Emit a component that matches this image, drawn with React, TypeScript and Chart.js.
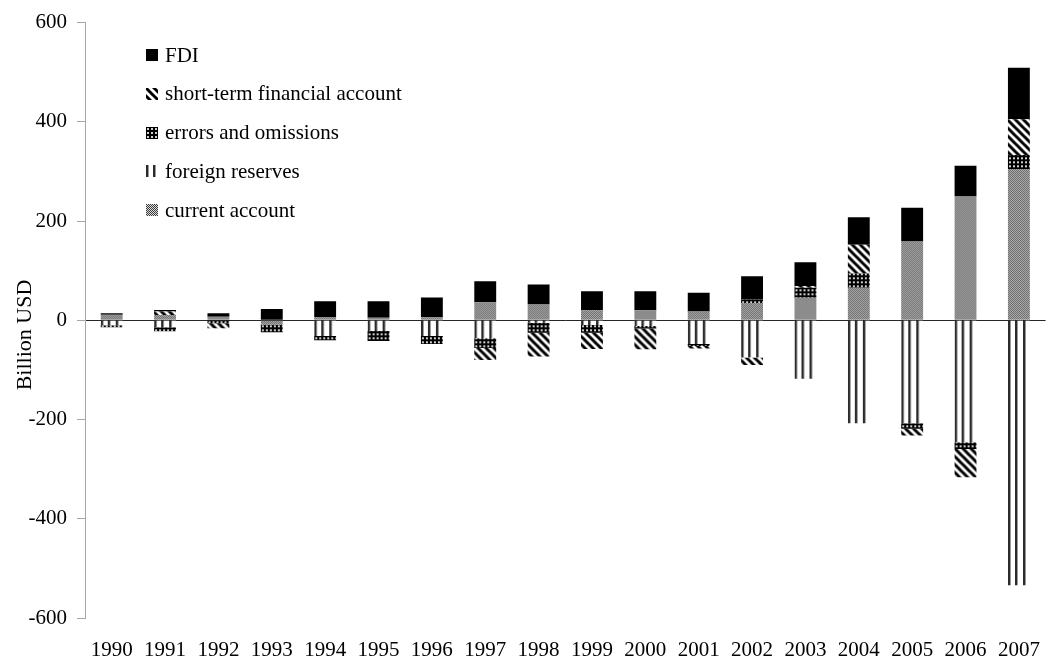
import React, { useEffect, useRef } from "react";
import { Chart, registerables } from "chart.js";

Chart.register(...registerables);

// ---------- data (billion USD) ----------
const years = [
  "1990", "1991", "1992", "1993", "1994", "1995", "1996", "1997", "1998",
  "1999", "2000", "2001", "2002", "2003", "2004", "2005", "2006", "2007",
];
const currentAccount = [11, 10.5, 7, -9, 6.5, 5, 6, 36.5, 32, 20.5, 20.5, 17.5, 35, 45.5, 65.5, 159, 249.5, 305];
const foreignReserves = [-10, -14, 0, 0, -31.5, -21.5, -31.5, -36, -5, -9.5, -11.5, -48, -75, -118, -207.5, -207.5, -246, -534];
const errorsOmissions = [-4, -8, -6, -15, -8.5, -20, -16.5, -20, -20, -15.5, -5, -4, 7, 20, 29, -11, -13.5, 28];
const shortTermFinancial = [0, 7, -10, 0, 0, 0, 0, -24, -48, -33, -42, -5, -15, 3.5, 58, -13.5, -57, 72];
const fdi = [3, 3.5, 7, 23, 32, 33.5, 40, 42, 40, 38, 38, 38, 47, 48, 55, 68, 62, 104];

const seriesLabels = [
  "current account",
  "foreign reserves",
  "errors and omissions",
  "short-term financial account",
  "FDI",
];
const yMin = -600;
const yMax = 600;
const yStep = 200;
const yTitle = "Billion USD";

// ---------- styling ----------
const FONT_FAMILY = "'Liberation Serif', 'Times New Roman', Times, serif";
const FONT_SIZE = 21;
const BAR_PCT = 0.41;

type Kind = "checker" | "vlines" | "grid" | "diag" | "solid";
const seriesKinds: Kind[] = ["checker", "vlines", "grid", "diag", "solid"];

const tileCache: Record<string, HTMLCanvasElement> = {};
function getTile(kind: Kind): HTMLCanvasElement {
  if (tileCache[kind]) return tileCache[kind];
  const c = document.createElement("canvas");
  let g: CanvasRenderingContext2D;
  if (kind === "checker") {
    c.width = 2; c.height = 2;
    g = c.getContext("2d")!;
    g.fillStyle = "#dcdcdc"; g.fillRect(0, 0, 2, 2);
    g.fillStyle = "#3c3c3c"; g.fillRect(0, 0, 1, 1); g.fillRect(1, 1, 1, 1);
  } else if (kind === "vlines") {
    c.width = 24; c.height = 2;
    g = c.getContext("2d")!;
    g.fillStyle = "#ffffff"; g.fillRect(0, 0, 24, 2);
    for (const x of [0, 7, 15]) {
      g.fillStyle = "#2b2b2b"; g.fillRect(x, 0, 2, 2);
      g.fillStyle = "#9a9a9a"; g.fillRect(x + 2, 0, 1, 2);
    }
  } else if (kind === "grid") {
    c.width = 4; c.height = 4;
    g = c.getContext("2d")!;
    g.fillStyle = "#000"; g.fillRect(0, 0, 4, 4);
    g.fillStyle = "#d0d0d0"; g.fillRect(1, 1, 2, 2);
  } else if (kind === "diag") {
    c.width = 8; c.height = 8;
    g = c.getContext("2d")!;
    g.fillStyle = "#fff"; g.fillRect(0, 0, 8, 8);
    g.strokeStyle = "#000"; g.lineWidth = 3;
    for (const k of [-8, 0, 8]) {
      g.beginPath(); g.moveTo(k - 1, -1); g.lineTo(k + 9, 9); g.stroke();
    }
  } else {
    c.width = 1; c.height = 1;
    g = c.getContext("2d")!;
    g.fillStyle = "#000"; g.fillRect(0, 0, 1, 1);
  }
  tileCache[kind] = c;
  return c;
}

function makeFill(ctx: CanvasRenderingContext2D, kind: Kind, x: number, y: number): any {
  if (kind === "solid") return "#000000";
  const p = ctx.createPattern(getTile(kind), "repeat");
  if (!p) return "#888";
  p.setTransform(new DOMMatrix([1, 0, 0, 1, x, y]));
  return p;
}

function barFill(kind: Kind) {
  return (c: any) => {
    if (kind === "solid") return "#000000";
    const chart = c.chart;
    const xs = chart.scales && chart.scales.x;
    const ys = chart.scales && chart.scales.y;
    if (c.type !== "data" || !xs || !ys || !chart.chartArea) return "#888888";
    const n = chart.data.labels.length;
    const w = ((xs.right - xs.left) / n) * BAR_PCT;
    const left = xs.getPixelForValue(c.dataIndex) - w / 2;
    return makeFill(chart.ctx, kind, left, ys.getPixelForValue(0));
  };
}

// legend drawn inside the plot, top-left (order reversed, like the original)
const LEGEND_X = 146;
const LEGEND_TOP = 55;
const LEGEND_STEP = 38.8;
const LEGEND_BOX = 12;

// y-axis title placement (the original sits a little below the plot's middle)
const Y_TITLE_X = 25;
const Y_TITLE_Y = 335;
const Y_TITLE_SIZE = 22;

const insideLegend = {
  id: "insideLegend",
  afterDraw(chart: any) {
    const ctx: CanvasRenderingContext2D = chart.ctx;
    const order = [4, 3, 2, 1, 0];
    order.forEach((dsIdx, i) => {
      const ds = chart.data.datasets[dsIdx];
      const cy = LEGEND_TOP + i * LEGEND_STEP;
      const by = Math.round(cy - LEGEND_BOX / 2);
      ctx.save();
      ctx.fillStyle = makeFill(ctx, seriesKinds[dsIdx], LEGEND_X, by);
      ctx.fillRect(LEGEND_X, by, LEGEND_BOX, LEGEND_BOX);
      ctx.fillStyle = "#000";
      ctx.font = `${FONT_SIZE}px ${FONT_FAMILY}`;
      ctx.textAlign = "left";
      ctx.textBaseline = "middle";
      ctx.fillText(ds.label, LEGEND_X + 19, cy + 1);
      ctx.restore();
    });
  },
};

const yAxisTitle = {
  id: "yAxisTitle",
  afterDraw(chart: any) {
    const ctx: CanvasRenderingContext2D = chart.ctx;
    ctx.save();
    ctx.translate(Y_TITLE_X, Y_TITLE_Y);
    ctx.rotate(-Math.PI / 2);
    ctx.fillStyle = "#000";
    ctx.font = `${Y_TITLE_SIZE}px ${FONT_FAMILY}`;
    ctx.textAlign = "center";
    ctx.textBaseline = "middle";
    ctx.fillText(yTitle, 0, 0);
    ctx.restore();
  },
};

export default function App() {
  const ref = useRef<HTMLCanvasElement>(null);

  useEffect(() => {
    const canvas = ref.current;
    if (!canvas) return;
    const font = { family: FONT_FAMILY, size: FONT_SIZE };
    const seriesData = [currentAccount, foreignReserves, errorsOmissions, shortTermFinancial, fdi];

    const chart = new Chart(canvas, {
      type: "bar",
      data: {
        labels: years,
        datasets: seriesData.map((d, i) => ({
          label: seriesLabels[i],
          data: d,
          backgroundColor: barFill(seriesKinds[i]) as any,
          borderWidth: 0,
          barPercentage: BAR_PCT,
          categoryPercentage: 1,
        })),
      },
      options: {
        responsive: false,
        animation: false,
        layout: { padding: { top: 20, right: 4, bottom: 0, left: 0 } },
        plugins: {
          legend: { display: false },
          tooltip: { enabled: false },
        },
        scales: {
          x: {
            stacked: true,
            grid: { display: false, drawTicks: false },
            border: { display: false },
            ticks: { color: "#000", font, padding: 20, maxRotation: 0, autoSkip: false },
            afterFit: (s: any) => { s.height = 46; },
          },
          y: {
            stacked: true,
            min: yMin,
            max: yMax,
            z: 1,
            ticks: { stepSize: yStep, color: "#000", font, padding: 10 },
            grid: {
              color: (c: any) => (c.tick && c.tick.value === 0 ? "#262626" : "rgba(0,0,0,0)"),
              tickColor: "#a6a6a6",
              tickLength: 8,
              lineWidth: 1,
            },
            border: { display: true, color: "#a6a6a6", width: 1 },
            title: { display: false, text: yTitle },
            afterFit: (s: any) => { s.width = 85; },
          },
        },
      },
      plugins: [insideLegend, yAxisTitle],
    });
    return () => chart.destroy();
  }, []);

  return (
    <div
      style={{
        position: "absolute",
        left: 0,
        top: 0,
        width: 1050,
        height: 664,
        overflow: "hidden",
        background: "#fff",
      }}
    >
      <canvas
        ref={ref}
        width={1060}
        height={664}
        style={{ width: "1060px", height: "664px", display: "block" }}
      />
    </div>
  );
}
